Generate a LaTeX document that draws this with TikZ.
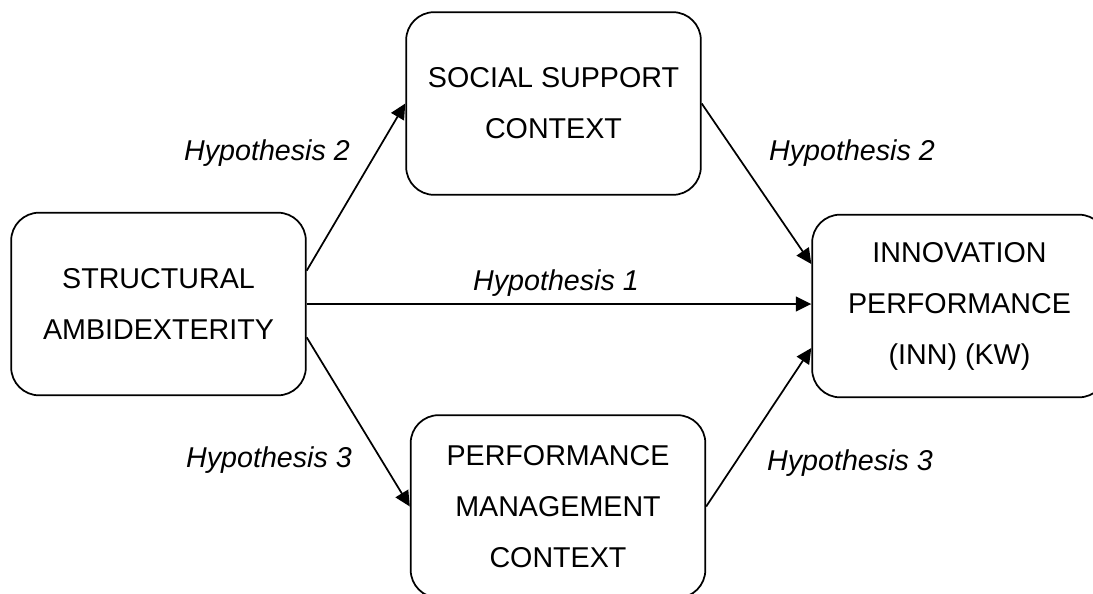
\documentclass[tikz,border=0pt]{standalone}
\usepackage{fontspec}
\setmainfont{Liberation Sans}
\usetikzlibrary{positioning, arrows.meta}

\begin{document}
\begin{tikzpicture}[x=0.75pt, y=-0.75pt]

% Styles
\tikzset{
  box/.style={draw, line width=1.3pt, rounded corners=21pt, minimum width=221pt, minimum height=137pt, align=center, inner sep=0pt, font=\fontsize{21.5}{38.25}\selectfont},
  hyp/.style={font=\fontsize{21.5}{26}\selectfont\itshape, inner sep=1pt},
  link/.style={line width=1.3pt, -{Triangle[length=11.5pt, width=11pt]}}
}

\useasboundingbox (0,0) rectangle (1093,593);

% Boxes
\node[box] (struct) at (158.5,304) {STRUCTURAL\\AMBIDEXTERITY};
\node[box] (social) at (553.5,103.5) {SOCIAL SUPPORT\\CONTEXT};
\node[box] (mgmt) at (558,506.5) {PERFORMANCE\\MANAGEMENT\\CONTEXT};
\node[box] (inn) at (959.5,306) {INNOVATION\\PERFORMANCE\\(INN) (KW)};

% Arrows
\draw[link] ([yshift=25pt]struct.east) -- (social.west);
\draw[link] (struct.east) -- (struct.east -| inn.west);
\draw[link] ([yshift=-25pt]struct.east) -- (mgmt.west);
\draw[link] (social.east) -- ([yshift=31.5pt]inn.west);
\draw[link] (mgmt.east) -- ([yshift=-31.5pt]inn.west);

% Hypothesis labels
\node[hyp] (h2a) at (267,153) {Hypothesis 2};
\node[hyp] (h1) at (556,283) {Hypothesis 1};
\node[hyp] (h2b) at (852,153) {Hypothesis 2};
\node[hyp] (h3a) at (269,460) {Hypothesis 3};
\node[hyp] (h3b) at (850,463) {Hypothesis 3};

\end{tikzpicture}
\end{document}
